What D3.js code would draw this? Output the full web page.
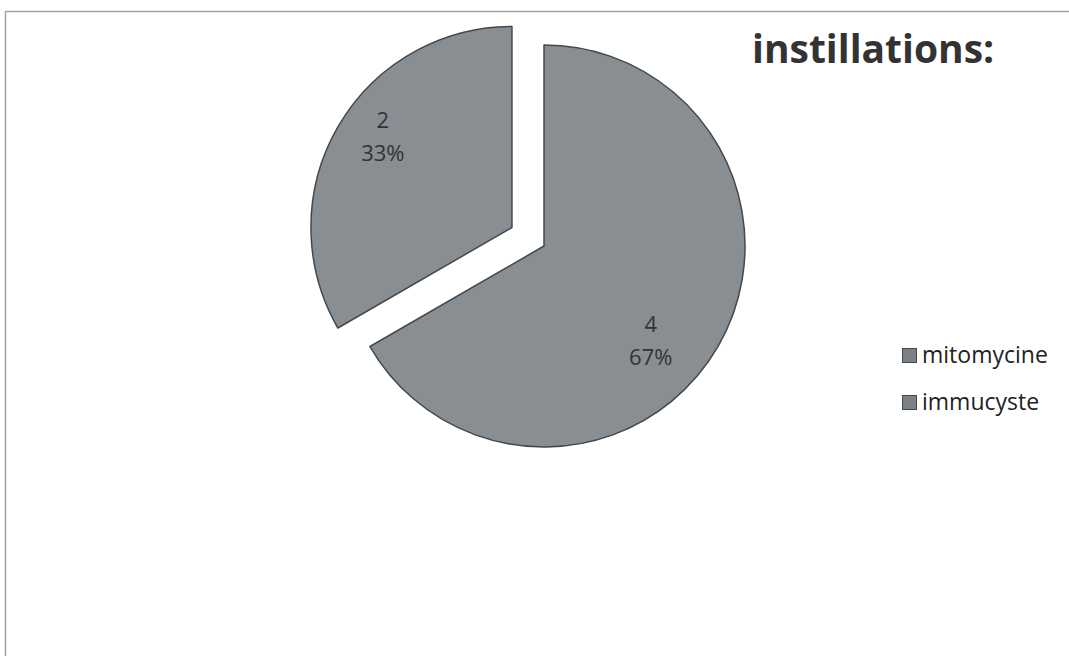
<!DOCTYPE html>
<html>
<head>
<meta charset="utf-8">
<script src="https://cdn.jsdelivr.net/npm/d3@7"></script>
<style>
  body { margin: 0; background: #fff; }
  svg { display: block; }
</style>
</head>
<body>
<svg width="1069" height="656"></svg>
<script>
var categories = ["mitomycine", "immucyste"];
var values = [4, 2];
var percentLabels = ["67%", "33%"];
var titleText = "instillations:";

var svg = d3.select("svg"),
    width = +svg.attr("width"),
    height = +svg.attr("height");

// frame (only top and left edges survive in the scan)
svg.append("line")
    .attr("x1", 5).attr("y1", 11.5).attr("x2", width).attr("y2", 11.5)
    .attr("stroke", "#a0a4a8").attr("stroke-width", 1.5);
svg.append("line")
    .attr("x1", 5.5).attr("y1", 11).attr("x2", 5.5).attr("y2", height)
    .attr("stroke", "#a0a4a8").attr("stroke-width", 1.5);

var cx = 544, cy = 246, radius = 201, explode = 37;
// excel "best fit" label placement: distance (fraction of radius) and turn (deg)
var labelDist = [0.71, 0.785];
var labelTurn = [11.6, 5.1];

var pie = d3.pie().sort(null).value(function(d) { return d; });
var arc = d3.arc().innerRadius(0).outerRadius(radius);
var arcs = pie(values);

var g = svg.append("g")
    .attr("transform", "translate(" + cx + "," + cy + ")");

var slice = g.selectAll(".slice")
    .data(arcs)
    .enter().append("g")
    .attr("class", "slice")
    .attr("transform", function(d, i) {
        if (i === 0) return null;
        var mid = (d.startAngle + d.endAngle) / 2;
        return "translate(" + (Math.sin(mid) * explode) + "," + (-Math.cos(mid) * explode) + ")";
    });

slice.append("path")
    .attr("d", arc)
    .attr("fill", "#898e92")
    .attr("stroke", "#45484a")
    .attr("stroke-width", 1.5)
    .attr("stroke-linejoin", "round");

var lbl = slice.append("text")
    .attr("transform", function(d, i) {
        var r = radius * labelDist[i];
        var a = (d.startAngle + d.endAngle) / 2 + labelTurn[i] * Math.PI / 180;
        return "translate(" + (Math.sin(a) * r) + "," + (-Math.cos(a) * r) + ")";
    })
    .attr("text-anchor", "middle")
    .attr("font-family", "'Open Sans', sans-serif")
    .attr("font-size", 22)
    .attr("fill", "#333");
lbl.append("tspan").attr("x", 0).attr("y", -9).text(function(d) { return d.data; });
lbl.append("tspan").attr("x", 0).attr("y", 24).text(function(d, i) { return percentLabels[i]; });

// title
svg.append("text")
    .attr("x", 752).attr("y", 63)
    .attr("font-family", "'Open Sans', sans-serif")
    .attr("font-weight", "bold")
    .attr("font-size", 39)
    .attr("fill", "#333")
    .text(titleText);

// legend
var legend = svg.selectAll(".legend")
    .data(categories)
    .enter().append("g")
    .attr("class", "legend")
    .attr("transform", function(d, i) { return "translate(902," + (348 + i * 47) + ")"; });

legend.append("rect")
    .attr("x", 0.5).attr("y", 0.5)
    .attr("width", 14).attr("height", 14)
    .attr("fill", "#7c8185")
    .attr("stroke", "#45484a");

legend.append("text")
    .attr("x", 20).attr("y", 15)
    .attr("font-family", "'Open Sans', sans-serif")
    .attr("font-size", 23)
    .attr("fill", "#222")
    .text(function(d) { return d; });
</script>
</body>
</html>
